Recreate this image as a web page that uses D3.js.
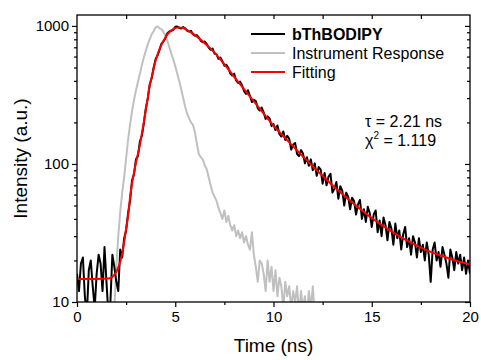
<!DOCTYPE html>
<html><head><meta charset="utf-8">
<script src="https://cdn.jsdelivr.net/npm/d3@7"></script>
<style>body{margin:0;background:#fff}svg{display:block}text{font-family:"Liberation Sans",Arial,sans-serif;fill:#000}</style>
</head><body><div id="chart"></div>
<script>
// ---- data ----
const sampleStart = 0, sampleStep = 0.1;
const sampleValues = [16,12,19,21,11,8,17,20,13,9,16,22,19,12,25,14,8,10,22,18,
 14,12,24,21,29,33,44,54,76,84,108,114,145,160,196,252,296,376,418,498,
 575,612,671,745,772,818,886,912,921,938,985,991,968,958,981,962,924,910,921,872,
 849,858,826,780,762,771,741,698,672,685,631,622,578,590,556,515,524,498,452,438,
 451,403,386,395,372,338,322,342,312,281,292,286,253,244,256,236,212,221,214,188,
 195,176,190,165,158,172,149,160,152,127,138,142,118,114,126,119,101,112,97,108,
 90,101,82,95,91,72,86,70,81,85,62,66,74,56,69,64,50,62,58,47,
 57,54,43,51,55,40,47,38,49,44,35,43,46,32,39,30,41,36,28,38,
 34,26,37,29,33,24,31,35,25,29,22,30,27,21,29,23,26,20,27,22,
 14,24,27,20,23,18,25,22,19,15,24,21,17,23,19,22,17,21,16,20,16];
const irfStart = 1.8;
const irfValues = [7,9,18,30,45,62,80,110,150,192,240,290,340,392,450,520,590,660,735,800,
 870,915,975,992,960,948,905,850,780,700,630,572,510,452,400,350,302,262,232,215,
 200,192,170,140,118,112,108,98,92,80,70,62,58,54,48,44,40,46,38,42,
 36,33,36,30,33,29,32,27,30,26,24,32,22,18,14,20,19,16,12,20,
 14,18,12,17,11,15,13,9,14,11,13,9,12,10,13,8,12,9,11,8,
 12,9,13,8];
const fitTimes = [0,1,1.6,1.8,1.9,2.0,2.1,2.2,2.3,2.4,2.5,2.6,2.7,2.8,2.9,3.0,3.1,3.2,3.3,3.4,
 3.5,3.6,3.7,3.8,3.9,4.0,4.1,4.2,4.3,4.4,4.5,4.6,4.7,4.8,4.9,5.0,5.1,5.2,5.3,5.4,
 5.5,5.7,6.0,6.5,7.0,7.5,8.0,8.5,9.0,9.5,10,10.5,11,11.5,12,12.5,13,13.5,14,14.5,
 15,15.5,16,16.5,17,17.5,18,18.5,19,19.5,20];
const fitValues = [14.7,14.7,14.8,15.2,15.8,16.5,17.8,19.5,22.5,27,34,42,57,72,86,102,118,137,165,200,
 245,300,370,425,490,560,620,680,730,780,825,868,900,930,950,965,972,975,972,965,
 952,918,858,750,640,526,428,348,284,232,190,159,134,113,96,82,70,60.6,52.7,46.1,
 40.6,36.2,32.5,29.4,26.9,24.8,23.1,21.7,20.5,19.5,18.8];
const xTicks = [0,5,10,15,20];
const yTicks = [10,100,1000];
const legendLabels = ["bThBODIPY","Instrument Response","Fitting"];
const colors = ["#000000","#c0c0c0","#ff0000"];

// ---- layout ----
const W = 481, H = 360;
const m = {left:77, top:15, right:11, bottom:58};
const iw = W - m.left - m.right, ih = H - m.top - m.bottom;
const svg = d3.select("#chart").append("svg").attr("width",W).attr("height",H);
const g = svg.append("g").attr("transform",`translate(${m.left},${m.top})`);
const x = d3.scaleLinear().domain([0,20]).range([0,iw]);
const y = d3.scaleLog().domain([10,1200]).range([ih,0]);

svg.append("defs").append("clipPath").attr("id","clip").append("rect")
  .attr("width",iw).attr("height",ih);

const sample = sampleValues.map((v,i)=>[sampleStart+i*sampleStep, v]);
const irf = irfValues.map((v,i)=>[irfStart+i*sampleStep, v]);
const fit = fitTimes.map((t,i)=>[t, fitValues[i]]);
const line = d3.line().x(d=>x(d[0])).y(d=>y(d[1]));
const fline = d3.line().x(d=>x(d[0])).y(d=>y(d[1])).curve(d3.curveMonotoneX);
const plot = g.append("g").attr("clip-path","url(#clip)");
plot.append("path").datum(irf).attr("d",line).attr("fill","none").attr("stroke",colors[1]).attr("stroke-width",2).attr("stroke-linejoin","round");
plot.append("path").datum(sample).attr("d",line).attr("fill","none").attr("stroke",colors[0]).attr("stroke-width",2).attr("stroke-linejoin","round");
plot.append("path").datum(fit).attr("d",fline).attr("fill","none").attr("stroke",colors[2]).attr("stroke-width",2);

// ---- axes ----
const minorX = d3.range(0,20.01,2.5).filter(v=>v%5!==0);
const minorY = [];
[10,100].forEach(d=>{for(let k=2;k<=9;k++)minorY.push(d*k);});
const minorYall = minorY.filter(v=>v<=1200 && !yTicks.includes(v));

const styleAxis = sel => {sel.select(".domain").remove(); sel.selectAll("text").style("font-size","15px").style("font-family","Liberation Sans, Arial, sans-serif");};
g.append("g").attr("transform",`translate(0,${ih})`).call(d3.axisBottom(x).tickValues(xTicks).tickSize(5).tickPadding(4)).call(styleAxis);
g.append("g").attr("transform",`translate(0,${ih})`).call(d3.axisBottom(x).tickValues(minorX).tickSize(3).tickFormat("")).call(styleAxis);
g.append("g").call(d3.axisLeft(y).tickValues(yTicks).tickSize(5).tickPadding(3).tickFormat(d3.format("d"))).call(styleAxis);
g.append("g").call(d3.axisLeft(y).tickValues(minorYall).tickSize(3).tickFormat("")).call(styleAxis);
g.append("g").call(d3.axisBottom(x).tickValues(d3.range(2.5,20,2.5)).tickSize(4).tickFormat("")).call(styleAxis);
g.append("g").attr("transform",`translate(${iw},0)`).call(d3.axisLeft(y).tickValues(yTicks).tickSize(5).tickFormat("")).call(styleAxis);
g.append("g").attr("transform",`translate(${iw},0)`).call(d3.axisLeft(y).tickValues(minorYall).tickSize(3).tickFormat("")).call(styleAxis);
g.selectAll(".tick line").attr("stroke","#000").attr("stroke-width",1.2);
g.append("rect").attr("width",iw).attr("height",ih).attr("fill","none").attr("stroke","#000").attr("stroke-width",1.3);

// ---- titles ----
svg.append("text").attr("x",m.left+iw/2).attr("y",352).attr("text-anchor","middle").style("font-size","19px").text("Time (ns)");
svg.append("text").attr("transform",`translate(27,${m.top+ih/2}) rotate(-90)`).attr("text-anchor","middle").style("font-size","19px").text("Intensity (a.u.)");

// ---- legend ----
const lg = svg.append("g");
legendLabels.forEach((lab,i)=>{
  const yy = 34 + i*19;
  lg.append("line").attr("x1",251).attr("x2",285).attr("y1",yy).attr("y2",yy).attr("stroke",colors[i]).attr("stroke-width",2);
  lg.append("text").attr("x",292).attr("y",yy+6).style("font-size","16px").style("font-weight",i===0?"bold":"normal").text(lab);
});

// ---- annotation ----
svg.append("text").attr("x",365).attr("y",127).style("font-size","16px").text("τ = 2.21 ns");
const chi = svg.append("text").attr("x",365).attr("y",146).style("font-size","16px");
chi.append("tspan").text("χ");
chi.append("tspan").attr("dy",-7).style("font-size","10px").text("2");
chi.append("tspan").attr("dy",7).text(" = 1.119");
</script></body></html>
